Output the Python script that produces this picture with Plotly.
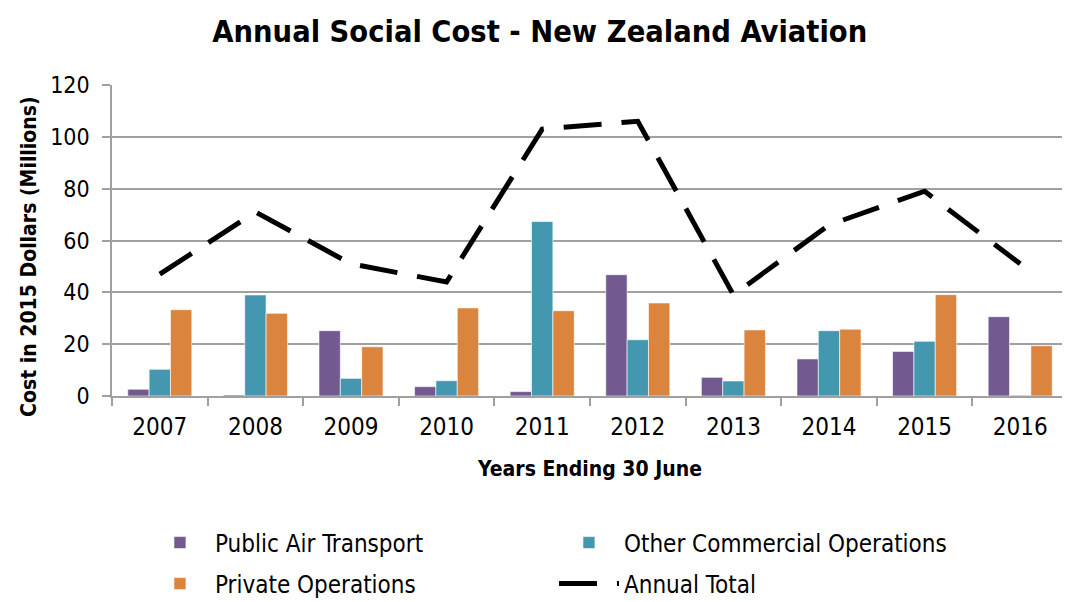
import plotly.graph_objects as go

years = ["2007", "2008", "2009", "2010", "2011", "2012", "2013", "2014", "2015", "2016"]
public_air = [2.6, 0.4, 25.2, 3.6, 1.7, 46.8, 7.2, 14.3, 17.2, 30.6]
other_comm = [10.3, 39.0, 6.8, 5.9, 67.3, 21.7, 5.8, 25.2, 21.1, 0.3]
private_ops = [33.3, 31.9, 19.0, 34.0, 32.9, 35.9, 25.5, 25.8, 39.1, 19.4]
annual_total = [47, 71, 51, 44, 103, 106, 39, 66, 79, 51]
y_ticks = [0, 20, 40, 60, 80, 100, 120]

FONT = "Liberation Sans Narrow, DejaVu Sans Condensed, Arial Narrow, sans-serif"

fig = go.Figure()
fig.add_trace(go.Bar(x=years, y=public_air, name="Public Air Transport",
                     marker=dict(color="#725990", line=dict(color="white", width=0.6)),
                     legend="legend"))
fig.add_trace(go.Bar(x=years, y=other_comm, name="Other Commercial Operations",
                     marker=dict(color="#4398B0", line=dict(color="white", width=0.6)),
                     legend="legend"))
fig.add_trace(go.Bar(x=years, y=private_ops, name="Private Operations",
                     marker=dict(color="#DB843D", line=dict(color="white", width=0.6)),
                     legend="legend2"))
fig.add_trace(go.Scatter(x=years, y=annual_total, name="Annual Total", mode="lines",
                         line=dict(color="black", width=5, dash="38px,20px"),
                         legend="legend2"))

fig.update_layout(
    width=1070, height=602,
    margin=dict(l=104, r=10, t=77, b=214, autoexpand=False),
    paper_bgcolor="white", plot_bgcolor="white",
    barmode="group", bargap=0.33, bargroupgap=0,
    font=dict(family=FONT, color="black", size=24),
    title=dict(text="<b>Annual Social Cost - New Zealand Aviation</b>",
               x=0.497, xanchor="center", y=1 - 23 / 602, yanchor="middle",
               font=dict(family=FONT, size=30.5, color="black")),
    xaxis=dict(type="category", tickson="boundaries", ticks="outside", ticklen=8,
               tickcolor="#A0A0A0", tickwidth=1.5, showline=True, linecolor="#A0A0A0",
               linewidth=1.5, showgrid=False, tickfont=dict(size=24, family=FONT),
               ticklabelstandoff=8,
               title=dict(text="<b>Years Ending 30 June</b>", font=dict(size=21, family=FONT),
                          standoff=22)),
    yaxis=dict(range=[0, 120], tickvals=y_ticks, ticks="outside", ticklen=8,
               tickcolor="#A0A0A0", tickwidth=1.5, showline=True, linecolor="#A0A0A0",
               linewidth=1.5, showgrid=True, gridcolor="#A0A0A0", gridwidth=1.5,
               zeroline=False, tickfont=dict(size=23, family=FONT), ticklabelstandoff=8),
    legend=dict(orientation="h", xref="container", x=0.128, xanchor="left",
                yref="container", y=1 - 535 / 602, yanchor="middle",
                entrywidth=334, entrywidthmode="pixels", font=dict(size=24, family=FONT),
                itemwidth=60, bgcolor="rgba(0,0,0,0)"),
    legend2=dict(orientation="h", xref="container", x=0.128, xanchor="left",
                 yref="container", y=1 - 576 / 602, yanchor="middle",
                 entrywidth=334, entrywidthmode="pixels", font=dict(size=24, family=FONT),
                 itemwidth=60, bgcolor="rgba(0,0,0,0)"),
    annotations=[dict(text="<b>Cost in 2015 Dollars (Millions)</b>", textangle=-90,
                      xref="paper", yref="paper", x=-0.087, y=0.45,
                      xanchor="center", yanchor="middle", showarrow=False,
                      font=dict(size=21, family=FONT))],
)

fig.write_html("out.html")
